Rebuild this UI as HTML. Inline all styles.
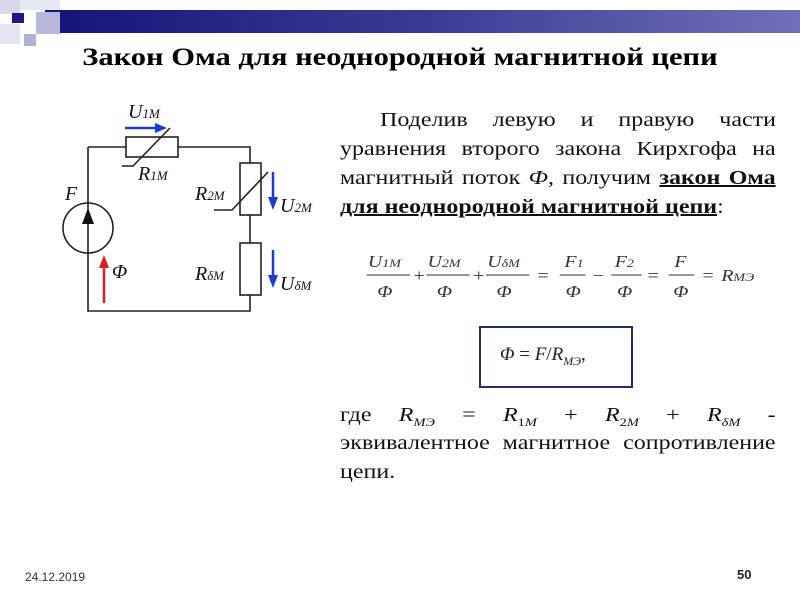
<!DOCTYPE html><html><head><meta charset="utf-8"><style>
body{margin:0;width:800px;height:600px;background:#fff;position:relative;overflow:hidden;font-family:"Liberation Serif",serif}
.a{position:absolute}
.l{position:absolute;left:340px;width:363px;font-size:20px;line-height:24px;text-align:justify;text-align-last:justify;color:#111;white-space:nowrap;transform:scaleX(1.2);transform-origin:0 0}
.i{font-style:italic}
sub{font-size:12px;line-height:0}
</style></head><body>
<div class="a" style="left:45px;top:10px;width:755px;height:23px;background:linear-gradient(90deg,#141478,#3a3a96 50%,#7070b8)"></div>
<div class="a" style="left:0;top:0;width:20px;height:14px;background:#d8d8ec"></div>
<div class="a" style="left:20px;top:0;width:40px;height:10px;background:#e8e8f4"></div>
<div class="a" style="left:12px;top:13px;width:12px;height:10px;background:#1a1a80"></div>
<div class="a" style="left:36px;top:12px;width:24px;height:22px;background:#b8b8dc"></div>
<div class="a" style="left:0;top:24px;width:20px;height:20px;background:#e4e4f2"></div>
<div class="a" style="left:24px;top:34px;width:12px;height:12px;background:#b0b0d4"></div>
<div class="a" style="left:0;top:44px;width:800px;text-align:center;font-weight:bold;font-size:25px;transform:scaleX(1.22);transform-origin:400px 0">Закон Ома для неоднородной магнитной цепи</div>
<svg class="a" style="left:0;top:0" width="340" height="330" font-family="Liberation Serif" font-style="italic">
<g stroke="#222" stroke-width="1.6" fill="none">
<path d="M88 147H126M178 147H250V163M250 215V243M250 295V311H88V147"/>
<rect x="126" y="137" width="52" height="20" fill="#fff"/>
<rect x="240" y="163" width="21" height="52" fill="#fff"/>
<rect x="240" y="243" width="21" height="52" fill="#fff"/>
<circle cx="88" cy="228" r="25"/>
<path d="M122 166H133L170 128M214 210H232L268 172"/>
</g>
<path d="M88 208l-6 16h12z" fill="#111"/>
<path d="M125 128H158" stroke="#1a3ad0" stroke-width="2.5"/><path d="M155 123l12 5-12 5z" fill="#1a3ad0"/>
<path d="M273 172V200" stroke="#1a3ad0" stroke-width="2.5"/><path d="M268 197l5 13 5-13z" fill="#1a3ad0"/>
<path d="M273 250V278" stroke="#1a3ad0" stroke-width="2.5"/><path d="M268 275l5 13 5-13z" fill="#1a3ad0"/>
<path d="M104 303V265" stroke="#e02020" stroke-width="2.5"/><path d="M99 268l5-13 5 13z" fill="#e02020"/>
<g font-size="20" fill="#111">
<text x="128" y="118">U<tspan font-size="13">1M</tspan></text>
<text x="138" y="180">R<tspan font-size="13">1M</tspan></text>
<text x="195" y="200">R<tspan font-size="13">2M</tspan></text>
<text x="280" y="212">U<tspan font-size="13">2M</tspan></text>
<text x="195" y="280">R<tspan font-size="13">δM</tspan></text>
<text x="280" y="290">U<tspan font-size="13">δM</tspan></text>
<text x="65" y="200">F</text>
<text x="112" y="278">Φ</text>
</g></svg>
<div class="l" style="top:108px;left:380px;width:330px">Поделив левую и правую части</div>
<div class="l" style="top:137px">уравнения второго закона Кирхгофа на</div>
<div class="l" style="top:166px">магнитный поток <span class="i">Ф</span>, получим <b><u>закон Ома</u></b></div>
<div class="l" style="top:195px;text-align-last:left"><b><u>для неоднородной магнитной цепи</u></b>:</div>
<svg class="a" style="left:355px;top:245px" width="420" height="65" font-family="Liberation Serif" font-style="italic" font-size="17" fill="#333">
<g transform="scale(1.17,1)">
<g stroke="#333" stroke-width="1"><path d="M10 30H47M61 30H98M112 30H149M175 30H197M219 30H245M268 30H290"/></g>
<text x="11" y="22">U<tspan font-size="12">1M</tspan></text><text x="19" y="52">Φ</text>
<text x="50" y="36" font-style="normal">+</text>
<text x="62" y="22">U<tspan font-size="12">2M</tspan></text><text x="70" y="52">Φ</text>
<text x="101" y="36" font-style="normal">+</text>
<text x="113" y="22">U<tspan font-size="12">δM</tspan></text><text x="121" y="52">Φ</text>
<text x="156" y="36" font-style="normal">=</text>
<text x="179" y="22">F<tspan font-size="12">1</tspan></text><text x="180" y="52">Φ</text>
<text x="203" y="36" font-style="normal">−</text>
<text x="222" y="22">F<tspan font-size="12">2</tspan></text><text x="224" y="52">Φ</text>
<text x="250" y="36" font-style="normal">=</text>
<text x="273" y="22">F</text><text x="272" y="52">Φ</text>
<text x="297" y="36" font-style="normal">=</text>
<text x="313" y="36">R<tspan font-size="12">MЭ</tspan></text>
</g></svg>
<div class="a" style="left:479px;top:326px;width:150px;height:58px;border:2px solid #2a2a70"></div>
<div class="a" style="left:500px;top:344px;font-size:19px;color:#222"><span class="i">Φ</span> = <span class="i">F</span>/<span class="i">R<sub>MЭ</sub></span>,</div>
<div class="l" style="top:403px">где <span class="i">R<sub>MЭ</sub></span> = <span class="i">R</span><sub>1<i>M</i></sub> + <span class="i">R</span><sub>2<i>M</i></sub> + <span class="i">R<sub>δM</sub></span> -</div>
<div class="l" style="top:431px">эквивалентное магнитное сопротивление</div>
<div class="l" style="top:460px;text-align-last:left">цепи.</div>
<div class="a" style="left:25px;top:570px;font-family:'Liberation Sans',sans-serif;font-size:12px;color:#333">24.12.2019</div>
<div class="a" style="left:737px;top:567px;font-family:'Liberation Sans',sans-serif;font-size:13px;font-weight:bold;color:#222">50</div>
</body></html>
